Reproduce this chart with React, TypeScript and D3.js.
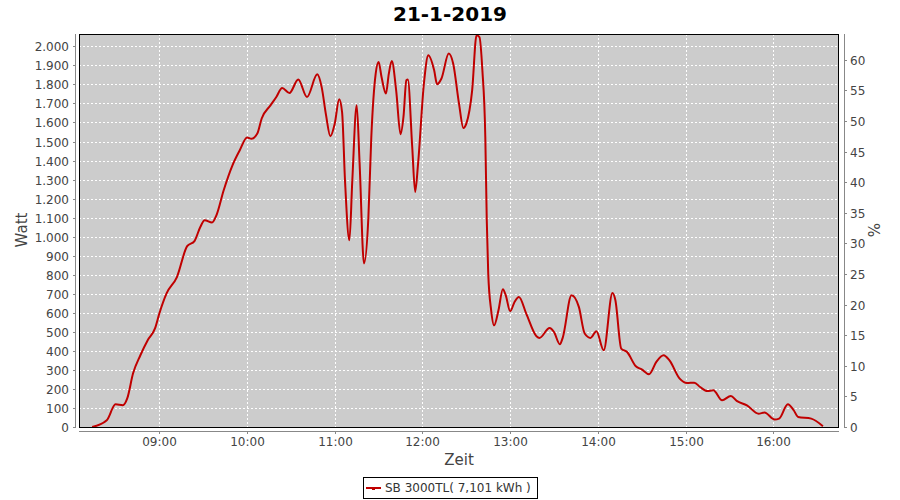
import React from 'react';
import * as d3 from 'd3';

const title = '21-1-2019';
const seriesName = 'SB 3000TL( 7,101 kWh )';
const times = [
  '08:14','08:24','08:30','08:35','08:38','08:42','08:47','08:52','08:57','09:00',
  '09:05','09:12','09:19','09:24','09:28','09:31','09:36','09:39','09:44','09:50',
  '09:55','10:00','10:03','10:07','10:10','10:16','10:20','10:24','10:29','10:35',
  '10:41','10:48','10:51','10:54','10:57','11:00','11:03','11:05','11:07','11:10',
  '11:12','11:15','11:17','11:20','11:23','11:25','11:28','11:30','11:32','11:35',
  '11:37','11:39','11:42','11:45','11:47','11:49','11:50','11:53','11:55','11:57',
  '12:01','12:04','12:08','12:10','12:13','12:18','12:21','12:25','12:28','12:30',
  '12:34','12:37','12:39','12:41','12:43','12:44','12:45','12:47','12:49','12:52',
  '12:55','12:57','13:00','13:03','13:06','13:11','13:18','13:20','13:27','13:30',
  '13:34','13:36','13:42','13:47','13:51','13:55','13:59','14:04','14:10','14:12',
  '14:16','14:20','14:26','14:30','14:35','14:40','14:45','14:49','14:56','15:01',
  '15:06','15:10','15:15','15:19','15:25','15:31','15:35','15:42','15:50','15:54',
  '16:01','16:04','16:10','16:14','16:17','16:26','16:34'
];
const watts = [
  0,35,119,114,150,282,377,456,518,597,
  703,788,950,977,1051,1086,1074,1112,1244,1375,
  1454,1521,1515,1542,1621,1690,1734,1781,1755,1826,
  1734,1853,1787,1640,1528,1594,1722,1655,1296,981,
  1296,1690,1384,859,1103,1524,1857,1918,1839,1752,
  1857,1923,1769,1538,1629,1822,1826,1471,1235,1384,
  1805,1953,1874,1801,1831,1962,1910,1699,1571,1594,
  1769,2058,2049,1874,1524,1086,806,613,534,613,
  724,692,608,657,683,596,477,468,520,499,
  435,470,692,631,491,468,503,403,704,666,
  412,394,319,303,277,342,377,350,254,231,
  233,210,189,193,140,163,137,114,70,76,
  39,44,119,88,53,44,4
];
const hourTicks = ['09:00','10:00','11:00','12:00','13:00','14:00','15:00','16:00'];
const wattTicks = [0,100,200,300,400,500,600,700,800,900,1000,1100,1200,1300,1400,1500,1600,1700,1800,1900,2000];
const pctTicks = [0,5,10,15,20,25,30,35,40,45,50,55,60];
const timeDomain = ['08:05','16:45'];
const wattMax = 2065;
const pctMax = 64.2;

const parse = d3.timeParse('%H:%M');
const de = d3.formatLocale({ decimal: ',', thousands: '.', grouping: [3], currency: ['', '€'] });
const fmtW = de.format(',d');

const L = 79, R = 839, T = 34, B = 427;
const FONT = 'DejaVu Sans, sans-serif';

export default function App() {
  const x = d3.scaleTime().domain(timeDomain.map((t) => parse(t) as Date)).range([L, R]);
  const y = d3.scaleLinear().domain([0, wattMax]).range([B, T]);
  const yp = d3.scaleLinear().domain([0, pctMax]).range([B, T]);
  const data: [Date, number][] = times.map((t, i) => [parse(t) as Date, watts[i]]);
  const line = d3
    .line<[Date, number]>()
    .x((d) => x(d[0]))
    .y((d) => y(d[1]))
    .curve(d3.curveMonotoneX);

  return (
    <svg width={900} height={500} style={{ position: 'absolute', left: 0, top: 0, background: '#fff' }} fontFamily={FONT}>
      <rect x={0} y={0} width={900} height={500} fill="#fff" />
      <text x={450} y={21} textAnchor="middle" fontSize={20} fontWeight="bold" fill="#000">{title}</text>
      <defs>
        <clipPath id="plotclip"><rect x={L} y={T} width={R - L} height={B - T} /></clipPath>
      </defs>
      <rect x={L} y={T} width={R - L} height={B - T} fill="#cccccc" />
      {wattTicks.filter((v) => v > 0).map((v) => (
        <line key={'gy' + v} x1={L} x2={R} y1={Math.round(y(v)) + 0.5} y2={Math.round(y(v)) + 0.5} stroke="#fff" strokeWidth={1} strokeDasharray="2,2" />
      ))}
      {hourTicks.map((h) => {
        const px = Math.round(x(parse(h) as Date)) + 0.5;
        return <line key={'gx' + h} x1={px} x2={px} y1={T} y2={B} stroke="#fff" strokeWidth={1} strokeDasharray="2,2" />;
      })}
      <path d={line(data) || ''} fill="none" stroke="#c00000" strokeWidth={2} strokeLinejoin="round" clipPath="url(#plotclip)" />
      <rect x={L + 0.5} y={T + 0.5} width={R - L - 1} height={B - T} fill="none" stroke="#000" strokeWidth={1} />

      {/* left axis */}
      <line x1={75.5} x2={75.5} y1={T} y2={B + 1} stroke="#888" />
      {wattTicks.map((v) => {
        const py = Math.round(y(v)) + 0.5;
        return (
          <g key={'ly' + v}>
            <line x1={73} x2={75.5} y1={py} y2={py} stroke="#888" />
            <text x={69} y={py + 4.5} textAnchor="end" fontSize={12} fill="#444">{fmtW(v)}</text>
          </g>
        );
      })}
      <text transform="translate(27,230) rotate(-90)" textAnchor="middle" fontSize={15} fill="#444">Watt</text>

      {/* right axis */}
      <line x1={844.5} x2={844.5} y1={T} y2={B + 1} stroke="#888" />
      {pctTicks.map((v) => {
        const py = Math.round(yp(v)) + 0.5;
        return (
          <g key={'ry' + v}>
            <line x1={844.5} x2={847} y1={py} y2={py} stroke="#888" />
            <text x={850} y={py + 4.5} textAnchor="start" fontSize={12} fill="#444">{v}</text>
          </g>
        );
      })}
      <text transform="translate(868,230) rotate(90)" textAnchor="middle" fontSize={15} fill="#444">%</text>

      {/* bottom axis */}
      <line x1={L} x2={R} y1={431.5} y2={431.5} stroke="#888" />
      {hourTicks.map((h) => {
        const px = Math.round(x(parse(h) as Date)) + 0.5;
        return (
          <g key={'bx' + h}>
            <line x1={px} x2={px} y1={431.5} y2={434} stroke="#888" />
            <text x={px} y={446} textAnchor="middle" fontSize={12} fill="#444">{h}</text>
          </g>
        );
      })}
      <text x={(L + R) / 2} y={465} textAnchor="middle" fontSize={15} fill="#444">Zeit</text>

      {/* legend */}
      <rect x={363.5} y={477.5} width={174} height={21} fill="#fff" stroke="#000" />
      <line x1={366} x2={381} y1={488} y2={488} stroke="#c00000" strokeWidth={2} />
      <rect x={372} y={487} width={3} height={3} fill="#c00000" />
      <text x={385} y={492} fontSize={12} fill="#333">{seriesName}</text>
    </svg>
  );
}
